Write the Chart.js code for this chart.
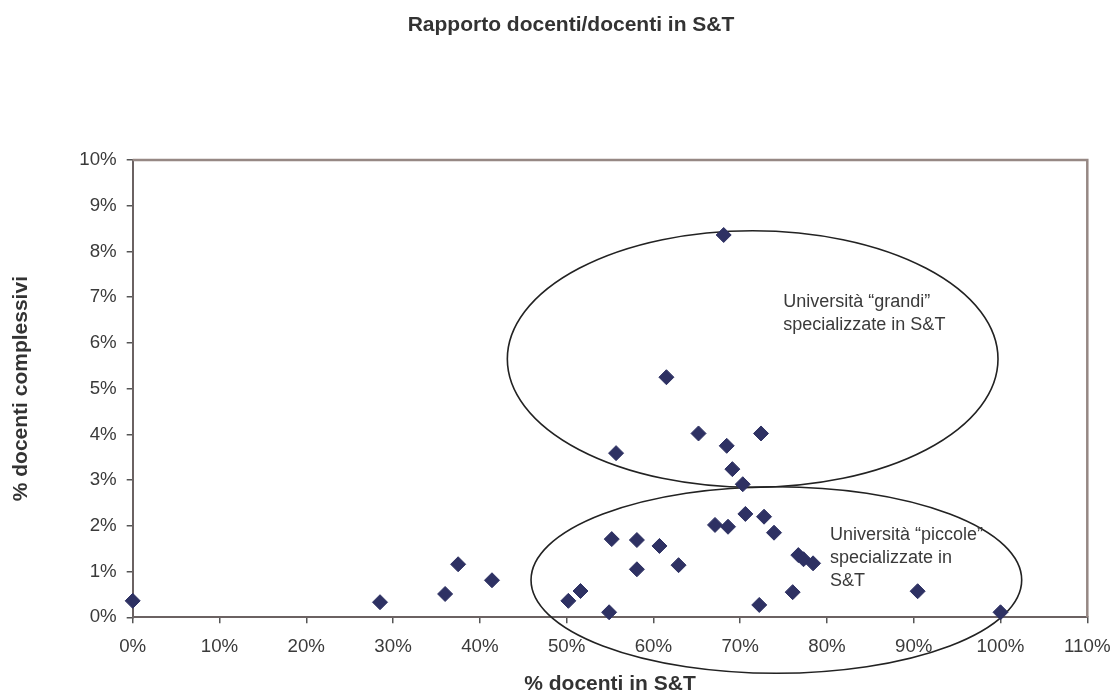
<!DOCTYPE html>
<html>
<head>
<meta charset="utf-8">
<script src="https://cdn.jsdelivr.net/npm/chart.js@4"></script>
<style>
  html, body { margin: 0; padding: 0; background: #fff; }
  #wrap { width: 1114px; height: 695px; }
</style>
</head>
<body>
<div id="wrap"><canvas id="chart" width="1114" height="695"></canvas></div>
<script>
// % docenti in S&T (x) and % docenti complessivi (y), one entry per university
const pctST = [0, 28.5, 36.0, 37.5, 41.4, 50.2, 51.6, 54.9, 55.2, 55.7, 58.1, 58.1, 60.7, 61.5, 62.9, 65.2, 67.1,
  68.1, 68.45, 68.6, 69.1, 70.3, 70.6, 72.2, 72.4, 72.75, 73.9, 76.05, 76.7, 77.3, 78.4, 90.45, 100]
const pctTotal = [0.36, 0.33, 0.51, 1.16, 0.81, 0.36, 0.575, 0.11, 1.71, 3.59, 1.69, 1.05, 1.56, 5.25, 1.14, 4.02, 2.02,
  8.36, 3.75, 1.98, 3.24, 2.91, 2.26, 0.27, 4.02, 2.20, 1.85, 0.55, 1.36, 1.27, 1.18, 0.57, 0.11]

const xTicks = [0, 10, 20, 30, 40, 50, 60, 70, 80, 90, 100, 110]
const yTicks = [0, 1, 2, 3, 4, 5, 6, 7, 8, 9, 10]

// groups circled on the chart: centre and radii in axis units
const groupLabels = [['Università “grandi”', 'specializzate in S&T'], ['Università “piccole”', 'specializzate in', 'S&T']]
const groupCx = [71.44, 74.17]
const groupCy = [5.648, 0.816]
const groupRx = [28.27, 28.27]
const groupRy = [2.806, 2.04]
const labelX = [74.97, 80.35]
const labelY = [6.79, 1.69]

const FONT = "'Liberation Sans', Arial, sans-serif"

const points = pctST.map((x, i) => ({ x, y: pctTotal[i] }))

const groupsPlugin = {
  id: 'groups',
  beforeDatasetsDraw(chart) {
    const { ctx, chartArea, scales: { x, y } } = chart
    ctx.save()
    // top and right frame of the plot area
    ctx.strokeStyle = '#968884'
    ctx.lineWidth = 2.5
    ctx.beginPath()
    ctx.moveTo(chartArea.left, chartArea.top)
    ctx.lineTo(chartArea.right, chartArea.top)
    ctx.lineTo(chartArea.right, chartArea.bottom)
    ctx.stroke()

    // ellipses
    ctx.strokeStyle = '#222'
    ctx.lineWidth = 1.6
    groupCx.forEach((cx, i) => {
      const px = x.getPixelForValue(cx)
      const py = y.getPixelForValue(groupCy[i])
      const rx = x.getPixelForValue(cx + groupRx[i]) - px
      const ry = py - y.getPixelForValue(groupCy[i] + groupRy[i])
      ctx.beginPath()
      ctx.ellipse(px, py, rx, ry, 0, 0, Math.PI * 2)
      ctx.stroke()
    })

    // ellipse captions
    ctx.fillStyle = '#3a3a3a'
    ctx.font = '18px ' + FONT
    ctx.textAlign = 'left'
    ctx.textBaseline = 'alphabetic'
    groupLabels.forEach((lines, i) => {
      const px = x.getPixelForValue(labelX[i])
      const py = y.getPixelForValue(labelY[i])
      lines.forEach((t, j) => ctx.fillText(t, px, py + j * 23.2))
    })
    ctx.restore()
  },
  afterDraw(chart) {
    const { ctx } = chart
    ctx.save()
    ctx.fillStyle = '#333'
    ctx.font = 'bold 21px ' + FONT
    ctx.textAlign = 'center'
    ctx.textBaseline = 'middle'
    ctx.fillText('Rapporto docenti/docenti in S&T', 571, 25.4)
    ctx.restore()
  }
}

const ctx = document.getElementById('chart').getContext('2d')
new Chart(ctx, {
  type: 'scatter',
  data: {
    datasets: [{
      label: 'Università',
      data: points,
      pointStyle: 'rectRot',
      pointRadius: 7.5,
      pointHoverRadius: 7.5,
      backgroundColor: '#2e3163',
      borderColor: '#2e3163',
      borderWidth: 1,
      clip: false
    }]
  },
  options: {
    responsive: false,
    animation: false,
    events: [],
    layout: { padding: { top: 160, right: 26.7, bottom: 0, left: 0 } },
    plugins: {
      legend: { display: false },
      title: { display: false },
      tooltip: { enabled: false }
    },
    scales: {
      x: {
        type: 'linear',
        min: 0,
        max: 110,
        afterFit: scale => {
          scale.height = 77.7
          scale.paddingLeft = 0
          scale.paddingRight = 0
        },
        afterBuildTicks: scale => { scale.ticks = xTicks.map(v => ({ value: v })) },
        grid: { drawOnChartArea: false, tickLength: 6, color: '#555', lineWidth: 1.5 },
        border: { color: '#6b6262', width: 2 },
        ticks: {
          padding: 12,
          color: '#3a3a3a',
          font: { family: FONT, size: 18.7 },
          maxRotation: 0,
          callback: v => v + '%'
        },
        title: {
          display: true,
          text: '% docenti in S&T',
          color: '#333',
          font: { family: FONT, size: 21, weight: 'bold', lineHeight: 1 },
          padding: { top: 0, bottom: 0 }
        }
      },
      y: {
        type: 'linear',
        min: 0,
        max: 10,
        afterFit: scale => { scale.width = 132.7 },
        afterBuildTicks: scale => { scale.ticks = yTicks.map(v => ({ value: v })) },
        grid: { drawOnChartArea: false, tickLength: 6, color: '#555', lineWidth: 1.5 },
        border: { color: '#6b6262', width: 2 },
        ticks: {
          padding: 10,
          color: '#3a3a3a',
          font: { family: FONT, size: 18.7 },
          callback: v => v + '%'
        },
        title: {
          display: true,
          text: '% docenti complessivi',
          color: '#333',
          font: { family: FONT, size: 21, weight: 'bold', lineHeight: 1 },
          padding: { top: 10.8, bottom: 0 }
        }
      }
    }
  },
  plugins: [groupsPlugin]
})
</script>
</body>
</html>
